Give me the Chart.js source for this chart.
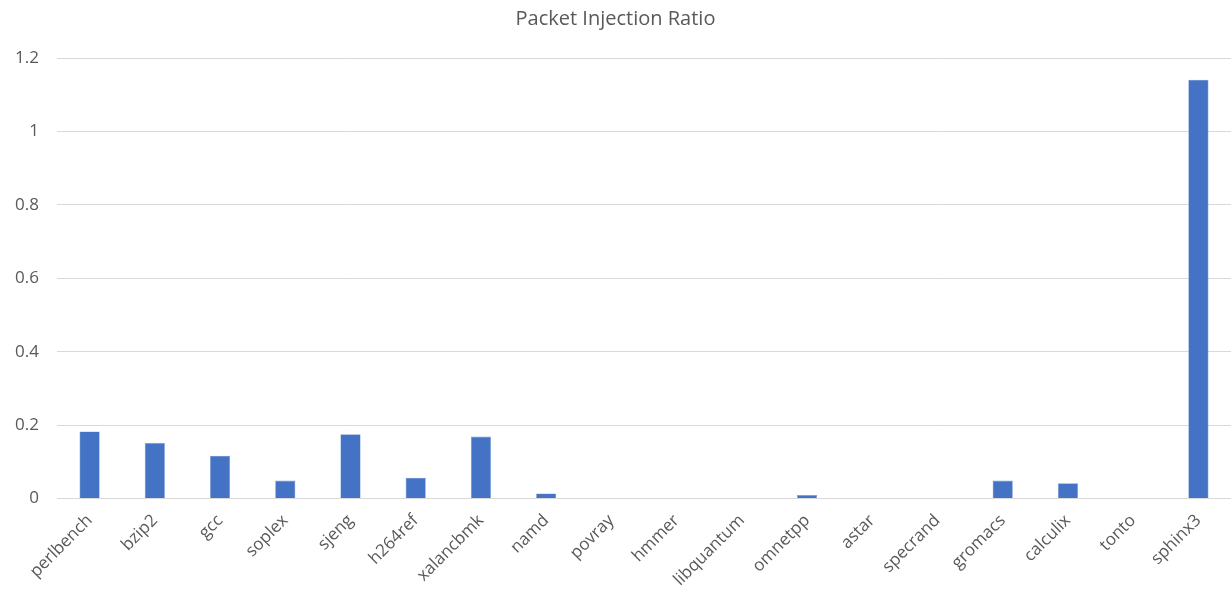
<!DOCTYPE html>
<html>
<head>
<meta charset="utf-8">
<script src="https://cdn.jsdelivr.net/npm/chart.js@4"></script>
<style>
  html, body { margin: 0; padding: 0; background: #fff; }
  #wrap { width: 1231px; height: 594px; position: relative; }
</style>
</head>
<body>
<div id="wrap"><canvas id="chart"></canvas></div>
<script>
// benchmarks and their packet injection ratio
const benchmarks = ['perlbench', 'bzip2', 'gcc', 'soplex', 'sjeng', 'h264ref', 'xalancbmk', 'namd', 'povray',
  'hmmer', 'libquantum', 'omnetpp', 'astar', 'specrand', 'gromacs', 'calculix', 'tonto', 'sphinx3'];
const injectionRatio = [0.183, 0.152, 0.117, 0.049, 0.175, 0.057, 0.169, 0.014, 0,
  0, 0, 0.010, 0, 0, 0.049, 0.042, 0, 1.141];
const yTicks = [0, 0.2, 0.4, 0.6, 0.8, 1, 1.2];

const font = "'Open Sans', 'Noto Sans', sans-serif";
const grey = '#595959';

const ctx = document.getElementById('chart').getContext('2d');
new Chart(ctx, {
  type: 'bar',
  data: {
    labels: benchmarks,
    datasets: [{
      label: 'Packet Injection Ratio',
      data: injectionRatio,
      backgroundColor: '#4472C4',
      borderColor: '#7f9fd9',
      borderWidth: 0.6,
      barPercentage: 0.31,
      categoryPercentage: 1
    }]
  },
  options: {
    responsive: true,
    maintainAspectRatio: false,
    animation: false,
    layout: { padding: { left: 0, right: 0, top: 4, bottom: 0 } },
    plugins: {
      legend: { display: false },
      tooltip: { enabled: false },
      title: {
        display: true,
        text: 'Packet Injection Ratio',
        color: grey,
        font: { family: font, size: 20, weight: 'normal' },
        padding: { top: 3, bottom: 27 }
      }
    },
    scales: {
      x: {
        grid: { display: false },
        border: { color: '#d9d9d9', width: 1 },
        ticks: {
          color: grey,
          font: { family: font, size: 17 },
          minRotation: 45,
          maxRotation: 45,
          padding: 4
        },
        // the rotated first label may hang past the plot edge
        afterFit: axis => { axis.paddingLeft = 0; axis.paddingRight = 0; }
      },
      y: {
        min: 0,
        max: 1.2,
        afterBuildTicks: axis => { axis.ticks = yTicks.map(v => ({ value: v })); },
        afterFit: axis => { axis.width = 57; },
        grid: { color: '#d9d9d9', drawTicks: false },
        border: { display: false },
        ticks: {
          color: grey,
          font: { family: font, size: 17 },
          padding: 18,
          callback: v => String(v)
        }
      }
    }
  }
});
</script>
</body>
</html>
